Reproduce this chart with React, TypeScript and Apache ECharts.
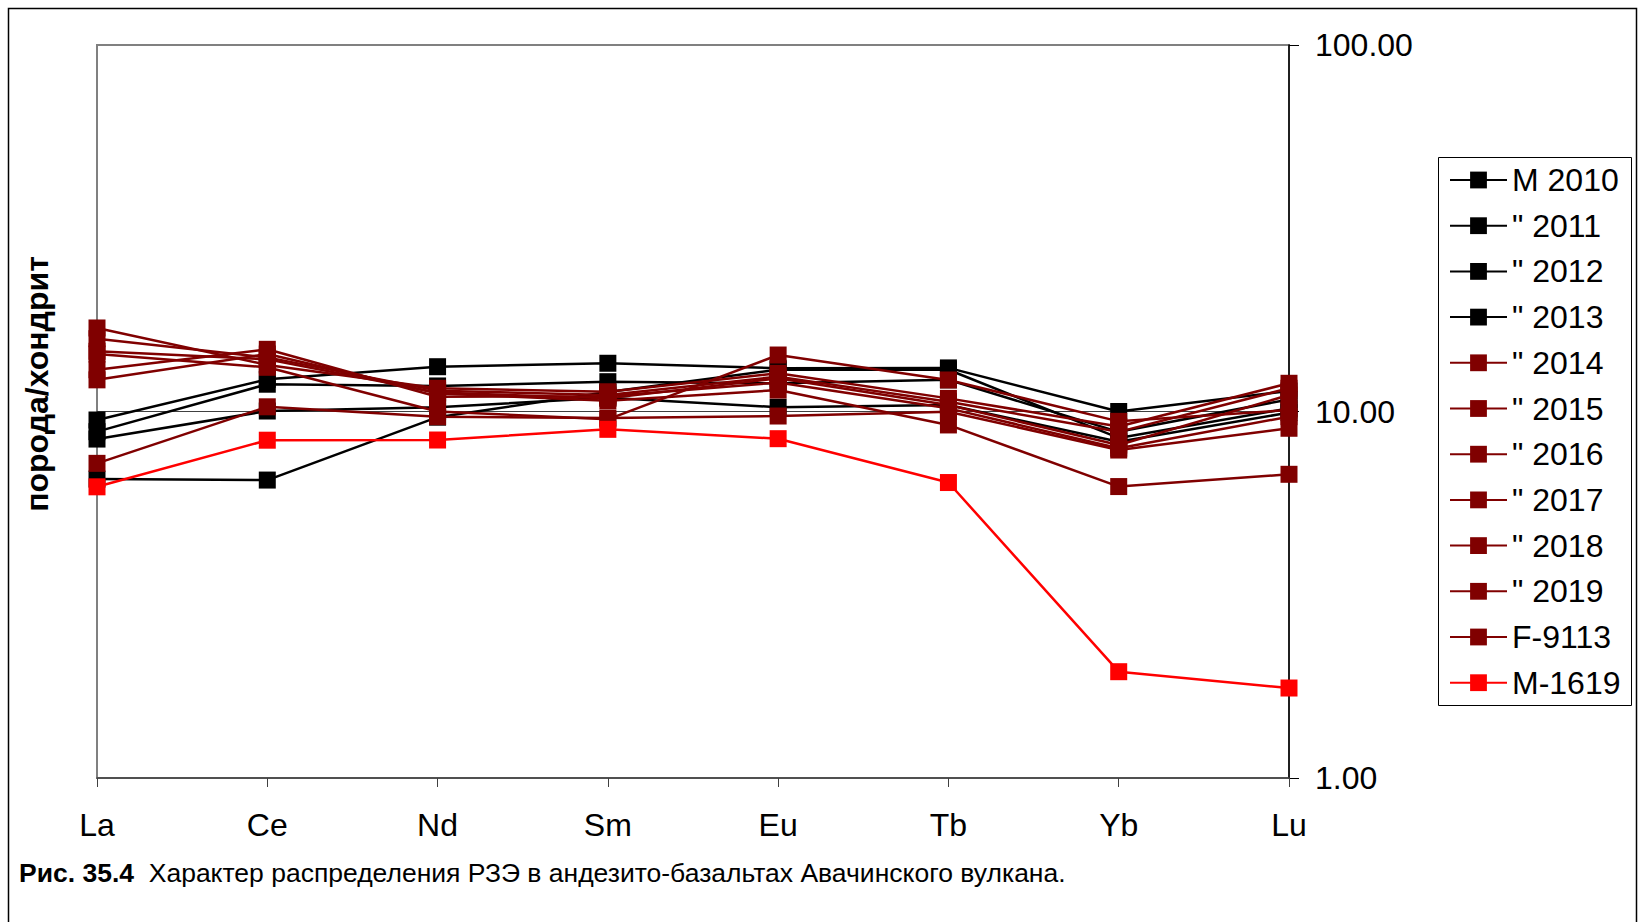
import React, { useEffect, useRef } from "react";
import * as echarts from "echarts";

const categories = ["La", "Ce", "Nd", "Sm", "Eu", "Tb", "Yb", "Lu"];
const seriesNames = ['M 2010', '" 2011', '" 2012', '" 2013', '" 2014', '" 2015', '" 2016', '" 2017', '" 2018', '" 2019', "F-9113", "M-1619"];

const m2010 = [9.48, 12.24, 13.25, 13.54, 13.12, 13.15, 10.0, 11.37];
const s2011 = [8.81, 11.87, 11.74, 12.06, 11.94, 12.2, 8.8, 10.79];
const s2012 = [8.41, 10.03, 10.27, 10.9, 10.27, 10.42, 8.27, 9.93];
const s2013 = [6.54, 6.5, 9.65, 11.3, 13.0, 13.0, 8.47, 10.2];
const s2014 = [16.9, 13.4, 11.57, 11.32, 12.71, 10.86, 9.1, 11.94];
const s2015 = [15.8, 14.05, 11.4, 11.09, 12.45, 10.63, 8.8, 11.57];
const s2016 = [14.6, 13.88, 11.26, 10.86, 12.32, 10.42, 8.1, 11.09];
const s2017 = [14.35, 13.2, 10.0, 9.52, 14.26, 12.19, 9.4, 10.09];
const s2018 = [13.0, 14.78, 10.97, 11.0, 12.0, 10.2, 7.94, 9.68];
const s2019 = [7.22, 10.3, 9.68, 9.6, 9.72, 9.99, 7.85, 9.0];
const f9113 = [12.2, 14.35, 11.2, 10.7, 11.44, 9.19, 6.24, 6.74];
const m1619 = [6.23, 8.35, 8.36, 8.94, 8.43, 6.4, 1.95, 1.76];

const seriesValues = [m2010, s2011, s2012, s2013, s2014, s2015, s2016, s2017, s2018, s2019, f9113, m1619];
const seriesColors = ["#000000", "#000000", "#000000", "#000000", "#800000", "#800000", "#800000", "#800000", "#800000", "#800000", "#800000", "#ff0000"];

const yTitle = "порода/хондрит";
const captionBold = "Рис. 35.4";
const captionText = "  Характер распределения РЗЭ в андезито-базальтах Авачинского вулкана.";

const FONT = '"Liberation Sans", Arial, Helvetica, sans-serif';

export default function App() {
  const ref = useRef<HTMLDivElement>(null);

  useEffect(() => {
    if (!ref.current) return;
    const chart = echarts.init(ref.current, null, { renderer: "svg" });
    const option: any = {
      animation: false,
      backgroundColor: "#ffffff",
      textStyle: { fontFamily: FONT },
      grid: {
        left: 97,
        top: 45,
        width: 1192,
        height: 733,
        show: true,
        borderColor: "#808080",
        borderWidth: 2,
        backgroundColor: "transparent",
      },
      xAxis: {
        type: "category",
        data: categories,
        boundaryGap: false,
        axisLine: { show: true, lineStyle: { color: "#404040", width: 1.5 } },
        axisTick: { show: true, length: 9, alignWithLabel: true, lineStyle: { color: "#404040", width: 1 } },
        axisLabel: { fontSize: 32, color: "#000", margin: 31, fontFamily: FONT },
        splitLine: { show: false },
      },
      yAxis: {
        type: "log",
        logBase: 10,
        min: 1,
        max: 100,
        position: "right",
        axisLine: { show: true, lineStyle: { color: "#000", width: 1.5 } },
        axisTick: { show: true, length: 10, lineStyle: { color: "#000", width: 1 } },
        axisLabel: {
          fontSize: 32,
          color: "#000",
          margin: 26,
          fontFamily: FONT,
          formatter: (v: number) => Number(v).toFixed(2),
        },
        splitLine: {
          show: true,
          lineStyle: { color: ["rgba(0,0,0,0)", "#404040", "rgba(0,0,0,0)"], width: 1 },
        },
      },
      legend: {
        orient: "vertical",
        left: 1449,
        top: 164,
        padding: 0,
        itemWidth: 57,
        itemHeight: 21,
        itemGap: 13.7,
        selectedMode: false,
        textStyle: { fontSize: 32, color: "#000", fontFamily: FONT, lineHeight: 30 },
        data: seriesNames,
      },
      graphic: [
        {
          type: "rect",
          silent: true,
          shape: { x: 8.5, y: 8.5, width: 1628, height: 940 },
          style: { fill: "none", stroke: "#000", lineWidth: 1.5 },
        },
        {
          type: "rect",
          silent: true,
          shape: { x: 1438.5, y: 157.5, width: 193, height: 548 },
          style: { fill: "none", stroke: "#000", lineWidth: 1 },
        },
        {
          type: "text",
          silent: true,
          x: 37,
          y: 384,
          rotation: Math.PI / 2,
          style: {
            text: yTitle,
            font: `bold 32px ${FONT}`,
            fill: "#000",
            align: "center",
            verticalAlign: "middle",
          },
        },
        {
          type: "text",
          silent: true,
          x: 19,
          y: 873,
          style: {
            text: `{b|${captionBold}}${captionText}`,
            fontSize: 26.5,
            fontFamily: FONT,
            fill: "#000",
            align: "left",
            verticalAlign: "middle",
            rich: {
              b: { fontWeight: "bold", fontSize: 26.5, fontFamily: FONT, fill: "#000" },
            },
          },
        },
      ],
      series: seriesNames.map((name, i) => ({
        name,
        type: "line",
        data: seriesValues[i],
        symbol: "rect",
        symbolSize: 17,
        showSymbol: true,
        color: seriesColors[i],
        itemStyle: { color: seriesColors[i] },
        lineStyle: { color: seriesColors[i], width: 2.5 },
        z: 2 + i * 0.01,
        emphasis: { disabled: true },
      })),
    };
    chart.setOption(option);
    return () => chart.dispose();
  }, []);

  return (
    <div
      ref={ref}
      style={{ position: "fixed", left: 0, top: 0, width: 1638, height: 922, background: "#fff" }}
    />
  );
}
